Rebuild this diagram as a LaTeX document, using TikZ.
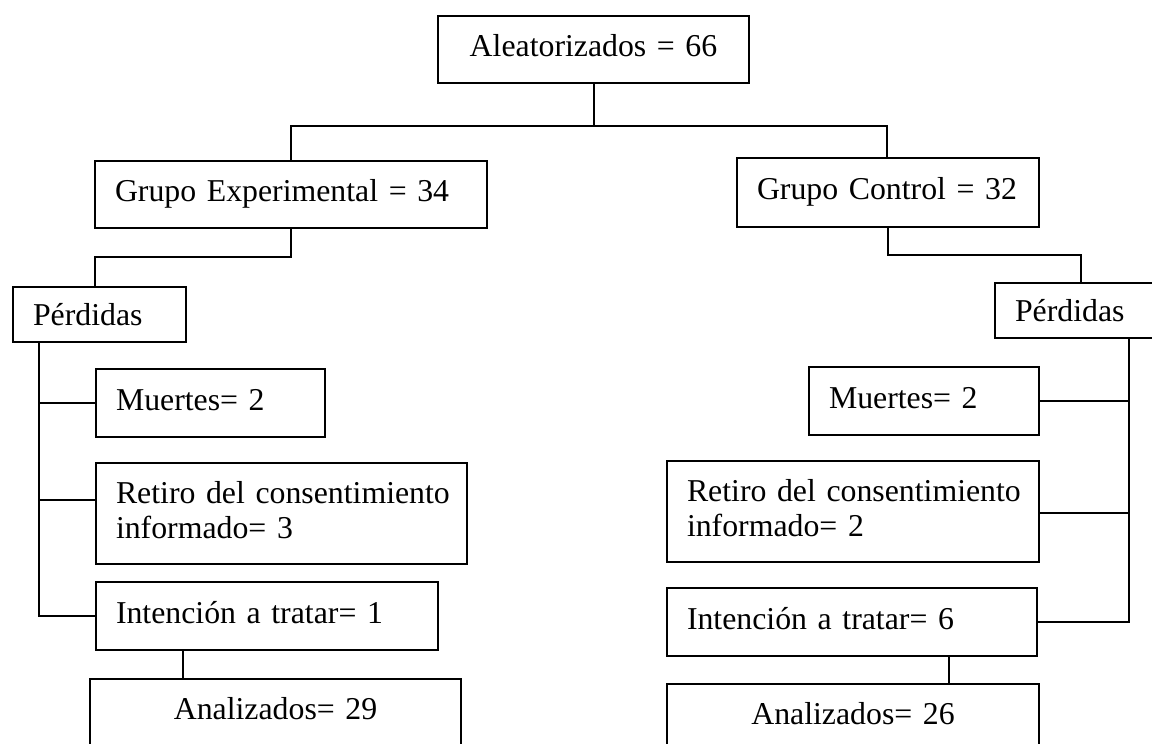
\documentclass[tikz,border=0pt]{standalone}
\usepackage{fontspec}
\setmainfont[WordSpace=0.8]{Liberation Serif}
\usepackage{tikz}
\usetikzlibrary{positioning,calc}
\tikzset{
  flowbox/.style={draw=black,line width=2pt,anchor=north west,
                  inner xsep=20pt,inner ysep=0pt,align=left,
                  text height=22pt,text depth=8pt,
                  font=\fontsize{31.8}{35}\selectfont},
  twoline/.style={text depth=43pt},
  lossbox/.style={text depth=0pt},
  endbox/.style={align=center,text depth=14pt},
  linkline/.style={line width=2pt,line cap=rect}
}

\begin{document}
\begin{tikzpicture}[x=1pt,y=-1pt]
  \clip (0,0) rectangle (1152,744);

  % top and the two groups
  \node[flowbox,align=center,minimum height=67pt,text width=271pt] (alea) at (437,15) {Aleatorizados = 66};
  \node[flowbox,minimum height=67pt,text width=352pt] (gexp) at (94,160) {Grupo Experimental = 34};
  \node[flowbox,minimum height=69pt,text width=262pt] (gctrl) at (736,157) {Grupo Control = 32};

  % losses, experimental side
  \node[flowbox,lossbox,minimum height=55pt,text width=133pt] (perdE) at (12,286) {Pérdidas};
  \node[flowbox,minimum height=68pt,text width=189pt] (muertesE) at (95,368) {Muertes= 2};
  \node[flowbox,twoline,minimum height=101pt,text width=331pt] (retiroE) at (95,462) {\mbox{Retiro del consentimiento}\\informado= 3};
  \node[flowbox,minimum height=68pt,text width=302pt] (intE) at (95,581) {Intención a tratar= 1};
  \node[flowbox,endbox,minimum height=72pt,text width=331pt] (anaE) at (89,678) {Analizados= 29};

  % losses, control side
  \node[flowbox,lossbox,minimum height=55pt,text width=130pt] (perdC) at (994,282) {Pérdidas};
  \node[flowbox,minimum height=68pt,text width=190pt] (muertesC) at (808,366) {Muertes= 2};
  \node[flowbox,twoline,minimum height=101pt,text width=332pt] (retiroC) at (666,460) {\mbox{Retiro del consentimiento}\\informado= 2};
  \node[flowbox,minimum height=68pt,text width=330pt] (intC) at (666,587) {Intención a tratar= 6};
  \node[flowbox,endbox,minimum height=72pt,text width=332pt] (anaC) at (666,683) {Analizados= 26};

  % split under the top box
  \coordinate (barL) at (291,126);
  \coordinate (barR) at (887,126);
  \draw[linkline] (alea.south) -- (alea.south |- barL);
  \draw[linkline] (barL) -- (barR);
  \draw[linkline] (barL) -- (barL |- gexp.north);
  \draw[linkline] (barR) -- (barR |- gctrl.north);

  % groups to their losses
  \coordinate (kneeE) at (95,257);
  \coordinate (kneeC) at (1081,255);
  \draw[linkline] (gexp.south) |- (kneeE) -- (kneeE |- perdE.north);
  \draw[linkline] (gctrl.south) |- (kneeC) -- (kneeC |- perdC.north);

  % left spine
  \coordinate (spineE) at (39,616);
  \coordinate (tapE) at (39,500);
  \draw[linkline] (perdE.south -| spineE) |- (intE.west);
  \draw[linkline] (spineE |- muertesE.west) -- (muertesE.west);
  \draw[linkline] (tapE) -- (tapE -| retiroE.west);

  % right spine
  \coordinate (spineC) at (1129,621);
  \coordinate (tapC) at (1129,513);
  \draw[linkline] (perdC.south -| spineC) |- (intC.east);
  \draw[linkline] (spineC |- muertesC.east) -- (muertesC.east);
  \draw[linkline] (tapC) -- (tapC -| retiroC.east);

  % down to the analysed boxes
  \coordinate (dropE) at (183,649);
  \coordinate (dropC) at (949,655);
  \draw[linkline] (intE.south -| dropE) -- (anaE.north -| dropE);
  \draw[linkline] (intC.south -| dropC) -- (anaC.north -| dropC);
\end{tikzpicture}
\end{document}
